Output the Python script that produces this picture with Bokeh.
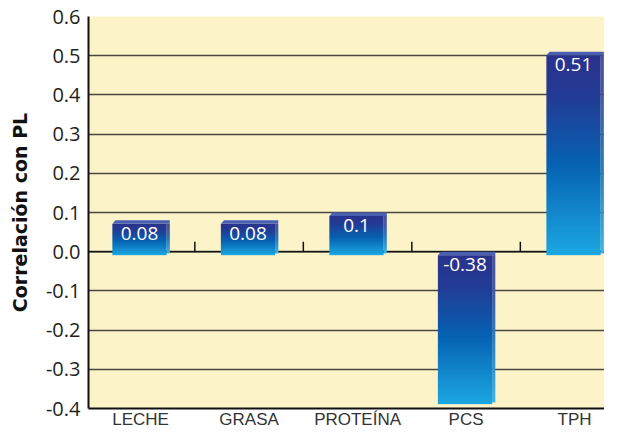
import numpy as np
from bokeh.plotting import figure
from bokeh.models import Range1d, FixedTicker, Span
from bokeh.embed import file_html
from bokeh.resources import INLINE
from bokeh.core.properties import value

# ---- data ----
categories = ["LECHE", "GRASA", "PROTEÍNA", "PCS", "TPH"]
correlations = [0.08, 0.08, 0.10, -0.38, 0.51]
value_labels = ["0.08", "0.08", "0.1", "-0.38", "0.51"]
y_ticks = [-0.4, -0.3, -0.2, -0.1, 0.0, 0.1, 0.2, 0.3, 0.4, 0.5, 0.6]
y_tick_labels = ["-0.4", "-0.3", "-0.2", "-0.1", "0.0", "0.1", "0.2", "0.3", "0.4", "0.5", "0.6"]
y_title = "Correlación con PL"

# ---- style ----
BG = "#FDF3C8"
GRID = "#4a4740"
stops = [(0.0, (42, 50, 140)), (0.22, (34, 60, 150)), (0.55, (6, 98, 178)), (1.0, (28, 168, 226))]

def grad_rgb(t, lighten=0.0):
    for (t0, c0), (t1, c1) in zip(stops[:-1], stops[1:]):
        if t <= t1:
            f = (t - t0) / (t1 - t0)
            c = [c0[k] + (c1[k] - c0[k]) * f for k in range(3)]
            break
    return [int(round(ci + (255 - ci) * lighten)) for ci in c]

def grad_image(lighten=0.0, n=256):
    img = np.zeros((n, 1, 4), dtype=np.uint8)
    for r in range(n):
        t = 1.0 - (r + 0.5) / n   # row 0 is the bottom of the bar
        img[r, 0, :3] = grad_rgb(t, lighten)
        img[r, 0, 3] = 255
    return img.view(dtype=np.uint32).reshape((n, 1))

W, H = 604, 431
BL, BT, BB = 88, 16, 21
px_per_cat = 108.5
x_start = 0.02
x_end = x_start + (W - BL) / px_per_cat
px_per_unit = (H - BT - BB) / 1.0

p = figure(width=W, height=H, output_backend="svg", toolbar_location=None,
           x_range=Range1d(x_start, x_end), y_range=Range1d(-0.4, 0.6),
           min_border_left=BL, min_border_right=0, min_border_top=BT, min_border_bottom=BB)
p.background_fill_color = BG
p.border_fill_color = "white"
p.outline_line_color = None

p.xgrid.visible = False
p.ygrid.ticker = FixedTicker(ticks=y_ticks)
p.ygrid.grid_line_color = GRID
p.ygrid.grid_line_width = 1.5

p.add_layout(Span(location=0, dimension="width", line_color="#111111", line_width=1.5, level="underlay"))

# x axis
centers = [i + 0.5 for i in range(len(categories))]
xa = p.xaxis[0]
xa.ticker = FixedTicker(ticks=centers)
xa.major_label_overrides = {c: lab for c, lab in zip(centers, categories)}
xa.major_tick_line_color = None
xa.minor_tick_line_color = None
xa.major_tick_out = 0
xa.major_tick_in = 0
xa.major_label_standoff = 1
xa.axis_line_color = "#111111"
xa.axis_line_width = 2
xa.major_label_text_font = "Liberation Sans"
xa.major_label_text_font_size = "17px"
xa.major_label_text_color = "#333333"

# y axis
ya = p.yaxis[0]
ya.ticker = FixedTicker(ticks=y_ticks)
ya.major_label_overrides = {t: lab for t, lab in zip(y_ticks, y_tick_labels)}
ya.major_tick_line_color = None
ya.minor_tick_line_color = None
ya.major_tick_out = 0
ya.major_tick_in = 0
ya.major_label_standoff = 8
ya.axis_line_color = "#111111"
ya.axis_line_width = 2
ya.major_label_text_font = "Open Sans"
ya.major_label_text_font_size = "20px"
ya.major_label_text_color = "#231F20"
ya.axis_label = y_title
ya.axis_label_text_font = "DejaVu Sans"
ya.axis_label_text_font_style = "bold"
ya.axis_label_text_font_size = "19px"
ya.axis_label_text_color = "#111111"
ya.axis_label_standoff = 12

# separator ticks at zero line between categories
bounds = [i + 1.0 for i in range(len(categories) - 1)]
tick_h = 10 / px_per_unit
p.segment(x0=bounds, y0=[0] * len(bounds), x1=bounds, y1=[tick_h] * len(bounds),
          line_color="#111111", line_width=1.5)

# 3D gradient bars
dx = 3.2 / px_per_cat
dy = 3.5 / px_per_unit
front_img = grad_image(0.0)
side_img = grad_image(0.15)
fx, fy, fdw, fdh = [], [], [], []
sx, sy, sdw, sdh = [], [], [], []
txs, tys = [], []
label_y = []
for c, v in zip(centers, correlations):
    L, R = c - 0.26, c + 0.24
    hi = max(0.0, v) - dy
    lo = min(0.0, v) - dy
    fx.append(L); fy.append(lo); fdw.append(R - L); fdh.append(hi - lo)
    sx.append(R); sy.append(lo + dy / 2); sdw.append(dx); sdh.append(hi - lo - dy / 2)
    txs.append([L, L + dx, R + dx, R + dx, R])
    tys.append([hi, hi + dy, hi + dy, hi, hi])
    label_y.append(hi)

p.image_rgba(image=[side_img] * len(sx), x=sx, y=sy, dw=sdw, dh=sdh)
p.image_rgba(image=[front_img] * len(fx), x=fx, y=fy, dw=fdw, dh=fdh)
p.patches(xs=txs, ys=tys, fill_color="#4a5fb2", line_color=None)

p.text(x=[c - 0.01 for c in centers], y=label_y, text=value_labels,
       text_color="white", text_font=value("Open Sans"), text_font_size="19px",
       text_align="center", text_baseline="top", y_offset=3)

open("out.html", "w").write(file_html(p, INLINE))
